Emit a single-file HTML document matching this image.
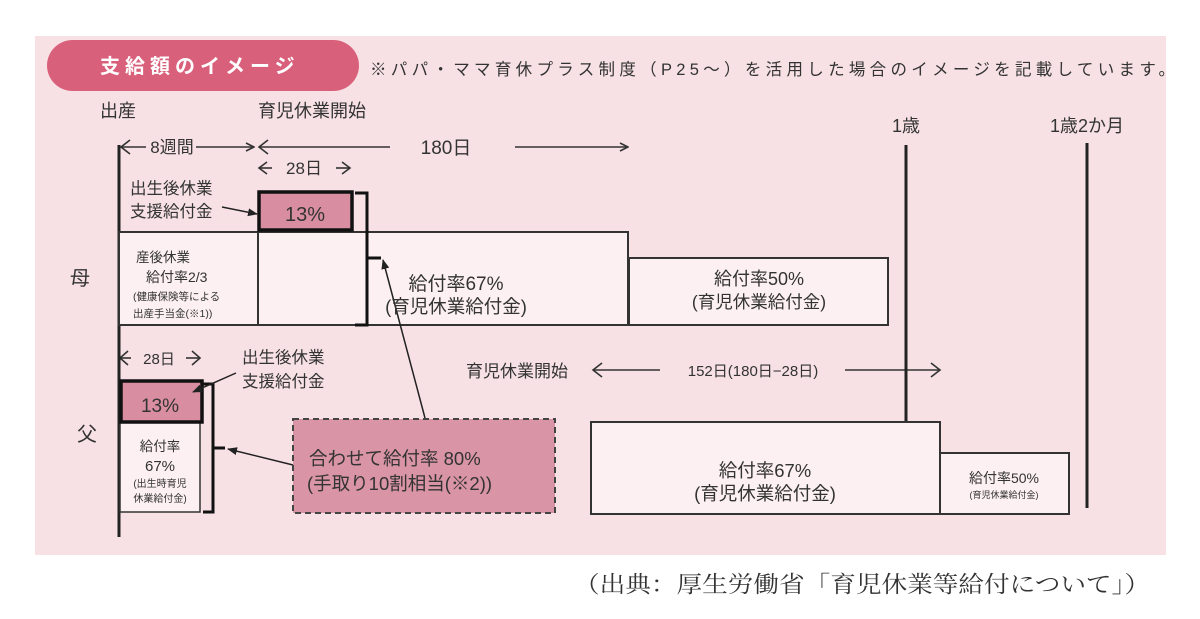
<!DOCTYPE html>
<html><head><meta charset="utf-8"><style>
html,body{margin:0;padding:0;background:#fff;}
svg{display:block;}
text{font-family:"Liberation Sans","Noto Sans CJK JP",sans-serif;fill:#333;}
</style></head><body>
<svg width="1200" height="619" viewBox="0 0 1200 619" xmlns="http://www.w3.org/2000/svg">
<defs>
<marker id="ah" markerWidth="10" markerHeight="10" refX="9" refY="5" orient="auto" markerUnits="userSpaceOnUse"><path d="M1,1 L9,5 L1,9" fill="none" stroke="#333" stroke-width="1.6"/></marker>
<marker id="tri" markerWidth="10" markerHeight="10" refX="9" refY="5" orient="auto" markerUnits="userSpaceOnUse"><path d="M0,1 L10,5 L0,9 Z" fill="#222"/></marker>
<clipPath id="pc"><rect x="35" y="36" width="1131" height="519"/></clipPath>
</defs>
<rect x="35" y="36" width="1131" height="519" fill="#f7e1e4"/>
<rect x="47" y="40" width="312" height="51" rx="25.5" fill="#d9607a"/>
<text x="100" y="73" font-size="20" style="fill:#fff;letter-spacing:5px" font-weight="bold">支給額のイメージ</text>
<g clip-path="url(#pc)">
<text x="370" y="75" font-size="16.5" textLength="805" lengthAdjust="spacing">※パパ・ママ育休プラス制度（P25～）を活用した場合のイメージを記載しています。</text>
</g>
<text x="100" y="117" font-size="18">出産</text>
<text x="258" y="117" font-size="18">育児休業開始</text>
<text x="906" y="132" font-size="18" text-anchor="middle">1歳</text>
<text x="1087" y="132" font-size="18" text-anchor="middle">1歳2か月</text>
<g stroke="#333" stroke-width="1.6" fill="none">
<line x1="121" y1="147" x2="146" y2="147"/>
<path d="M130,140 L121,147 L130,154"/>
<line x1="196" y1="147" x2="254" y2="147" marker-end="url(#ah)"/>
<path d="M268,140 L259,147 L268,154"/><line x1="259" y1="147" x2="390" y2="147"/>
<line x1="515" y1="147" x2="628" y2="147" marker-end="url(#ah)"/>
<path d="M267,162 L259,168 L267,174"/><line x1="259" y1="168" x2="272" y2="168"/><path d="M342,162 L350,168 L342,174"/><line x1="336" y1="168" x2="350" y2="168"/>
<path d="M128,351 L120,358 L128,365"/><line x1="120" y1="358" x2="131" y2="358"/><path d="M192,351 L200,358 L192,365"/><line x1="186" y1="358" x2="200" y2="358"/>
<line x1="593" y1="370" x2="660" y2="370"/><path d="M602,363 L593,370 L602,377"/>
<line x1="845" y1="370" x2="940" y2="370"/><path d="M931,363 L940,370 L931,377"/>
</g>
<text x="172" y="153" font-size="17" text-anchor="middle">8週間</text>
<text x="446" y="154" font-size="19" text-anchor="middle">180日</text>
<text x="304" y="174" font-size="17" text-anchor="middle">28日</text>
<text x="159" y="364" font-size="15" text-anchor="middle">28日</text>
<text x="466" y="377" font-size="17">育児休業開始</text>
<text x="753" y="376" font-size="15" text-anchor="middle">152日(180日−28日)</text>
<g stroke="#222" stroke-width="3">
<line x1="119" y1="145" x2="119" y2="537"/>
<line x1="906" y1="145" x2="906" y2="422"/>
<line x1="1087" y1="143" x2="1087" y2="508"/>
</g>
<rect x="119" y="232" width="509" height="93" fill="#fcf0f2" stroke="#333" stroke-width="2"/>
<line x1="258" y1="232" x2="258" y2="325" stroke="#333" stroke-width="2"/>
<rect x="629" y="258" width="259" height="67" fill="#fcf0f2" stroke="#333" stroke-width="2"/>
<rect x="259" y="192" width="93" height="38" fill="#d88ea0" stroke="#111" stroke-width="3.5"/>
<text x="305" y="221" font-size="20" text-anchor="middle">13%</text>
<text x="130" y="194" font-size="16.5">出生後休業</text>
<text x="130" y="217" font-size="16.5">支援給付金</text>
<line x1="222" y1="207" x2="257" y2="214" stroke="#222" stroke-width="1.5" marker-end="url(#tri)"/>
<path d="M355,193 H367 V325 H355" fill="none" stroke="#111" stroke-width="3"/>
<line x1="367" y1="258" x2="381" y2="258" stroke="#111" stroke-width="3"/>
<line x1="425" y1="418" x2="383" y2="260" stroke="#222" stroke-width="1.5" marker-end="url(#tri)"/>
<text x="136" y="262" font-size="13.5">産後休業</text>
<text x="146" y="282" font-size="14">給付率2/3</text>
<text x="133" y="300" font-size="10.5">(健康保険等による</text>
<text x="133" y="317" font-size="10.5">出産手当金(※1))</text>
<text x="80" y="285" font-size="20" text-anchor="middle">母</text>
<text x="456" y="290" font-size="19" text-anchor="middle">給付率67%</text>
<text x="456" y="313" font-size="18.5" text-anchor="middle">(育児休業給付金)</text>
<text x="759" y="285" font-size="18" text-anchor="middle">給付率50%</text>
<text x="759" y="308" font-size="17.5" text-anchor="middle">(育児休業給付金)</text>
<text x="87" y="441" font-size="20" text-anchor="middle">父</text>
<rect x="120" y="422" width="80" height="90" fill="#fcf0f2" stroke="#333" stroke-width="1.5"/>
<rect x="121" y="381" width="81" height="41" fill="#d88ea0" stroke="#111" stroke-width="3.5"/>
<text x="160" y="412" font-size="19" text-anchor="middle">13%</text>
<text x="160" y="451" font-size="13.5" text-anchor="middle">給付率</text>
<text x="160" y="471" font-size="15" text-anchor="middle">67%</text>
<text x="160" y="487" font-size="10" text-anchor="middle">(出生時育児</text>
<text x="160" y="502" font-size="10" text-anchor="middle">休業給付金)</text>
<path d="M203,384 H213 V512 H203" fill="none" stroke="#111" stroke-width="3"/>
<line x1="213" y1="448" x2="225" y2="448" stroke="#111" stroke-width="3"/>
<line x1="293" y1="465" x2="228" y2="449" stroke="#222" stroke-width="1.5" marker-end="url(#tri)"/>
<text x="242" y="363" font-size="16.5">出生後休業</text>
<text x="242" y="387" font-size="16.5">支援給付金</text>
<line x1="236" y1="373" x2="193" y2="392" stroke="#222" stroke-width="1.5" marker-end="url(#tri)"/>
<rect x="293" y="419" width="262" height="94" fill="#d994a5" stroke="#444" stroke-width="2" stroke-dasharray="6,4"/>
<text x="309" y="465" font-size="18.5">合わせて給付率 80%</text>
<text x="307" y="490" font-size="18.5">(手取り10割相当(※2))</text>
<rect x="591" y="422" width="349" height="92" fill="#fcf0f2" stroke="#333" stroke-width="2"/>
<rect x="940" y="453" width="129" height="61" fill="#fcf0f2" stroke="#333" stroke-width="2"/>
<text x="765" y="477" font-size="18.5" text-anchor="middle">給付率67%</text>
<text x="765" y="500" font-size="18.5" text-anchor="middle">(育児休業給付金)</text>
<text x="1004" y="483" font-size="14" text-anchor="middle">給付率50%</text>
<text x="1004" y="498" font-size="9" text-anchor="middle">(育児休業給付金)</text>
<text x="574" y="592" font-size="23" textLength="576" lengthAdjust="spacingAndGlyphs" style="font-family:'Liberation Serif','Noto Serif CJK SC',serif">（出典：厚生労働省「育児休業等給付について」）</text>
</svg>
</body></html>
